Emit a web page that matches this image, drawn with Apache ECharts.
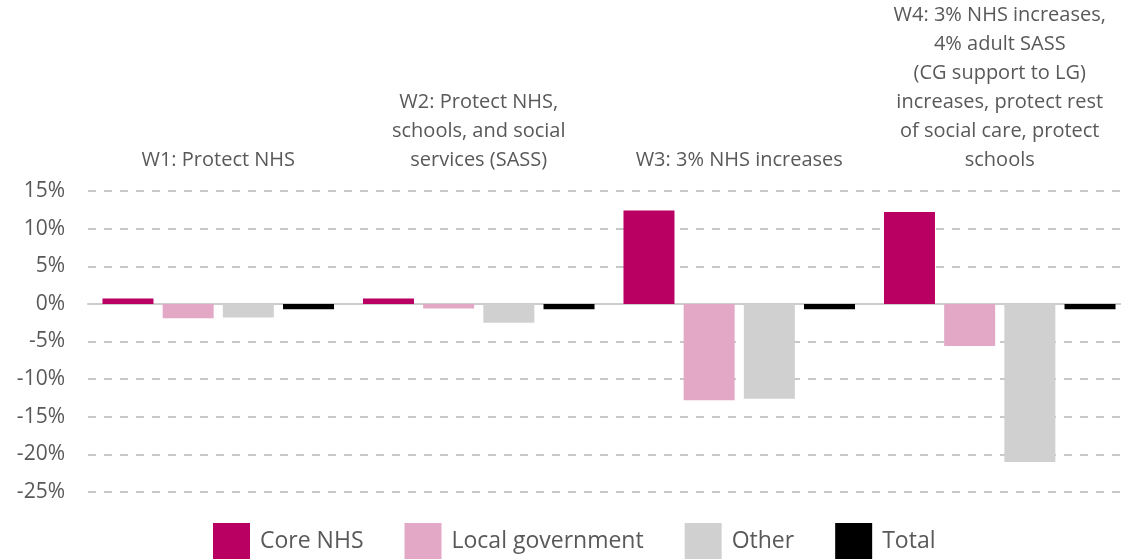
<!DOCTYPE html>
<html>
<head>
<meta charset="utf-8">
<script src="https://cdn.jsdelivr.net/npm/echarts@6/dist/echarts.min.js"></script>
<style>
html, body { margin: 0; padding: 0; background: #fff; }
#chart { width: 1121px; height: 559px; }
</style>
</head>
<body>
<div id="chart"></div>
<script>
var categories = [
    'W1: Protect NHS',
    'W2: Protect NHS,\nschools, and social\nservices (SASS)',
    'W3: 3% NHS increases',
    'W4: 3% NHS increases,\n4% adult SASS\n(CG support to LG)\nincreases, protect rest\nof social care, protect\nschools'
];
var coreNhs = [0.7, 0.7, 12.4, 12.2];
var localGov = [-1.9, -0.6, -12.8, -5.6];
var other = [-1.8, -2.5, -12.6, -21.0];
var total = [-0.7, -0.7, -0.7, -0.7];
var yTicks = [-25, -20, -15, -10, -5, 0, 5, 10, 15];

var textColor = '#595959';
var font = '"Open Sans", "Noto Sans", sans-serif';

var chart = echarts.init(document.getElementById('chart'));

function barSeries(name, data, color) {
    return {
        name: name,
        type: 'bar',
        data: data,
        barWidth: 51,
        barGap: '18%',
        itemStyle: { color: color },
        emphasis: { disabled: true }
    };
}

var option = {
    animation: false,
    textStyle: { fontFamily: font },
    grid: { left: 88, top: 191, width: 1042, height: 301, outerBoundsMode: 'none' },
    legend: {
        left: 208,
        top: 518,
        itemWidth: 37,
        itemHeight: 36,
        itemGap: 41,
        icon: 'rect',
        textStyle: { color: textColor, fontSize: 23, fontFamily: font, padding: [0, 0, 0, 5] },
        data: ['Core NHS', 'Local government', 'Other', 'Total']
    },
    xAxis: [{
        type: 'category',
        data: categories,
        position: 'bottom',
        axisLine: { onZero: true, lineStyle: { color: '#cccccc', width: 2 } },
        axisTick: { show: false },
        axisLabel: { show: false }
    }, {
        type: 'category',
        data: categories,
        position: 'top',
        axisLine: { show: false, onZero: false },
        axisTick: { show: false },
        axisLabel: {
            color: textColor,
            fontSize: 20,
            lineHeight: 29,
            margin: 16,
            interval: 0,
            align: 'center'
        }
    }],
    yAxis: {
        type: 'value',
        min: yTicks[0],
        max: yTicks[yTicks.length - 1],
        interval: 5,
        axisLine: { show: false },
        axisTick: { show: false },
        axisLabel: {
            color: textColor,
            fontSize: 21,
            margin: 23,
            formatter: '{value}%'
        },
        splitLine: { lineStyle: { color: '#c8c8c8', width: 2, type: [8, 8] } }
    },
    series: [
        barSeries('Core NHS', coreNhs, '#b90062'),
        barSeries('Local government', localGov, '#e2a8c5'),
        barSeries('Other', other, '#d0d0d0'),
        barSeries('Total', total, '#000000')
    ]
};
chart.setOption(option);
</script>
</body>
</html>
